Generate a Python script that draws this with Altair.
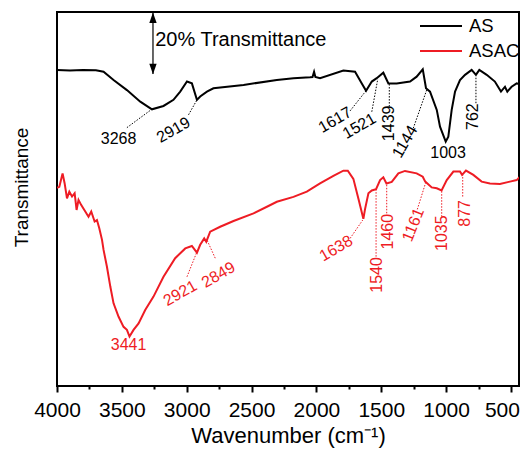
import altair as alt
import pandas as pd

FONT = "Liberation Sans"
RED = "#ee1c24"

# ---------------- spectra (wavenumber cm-1, transmittance % offset) ----------------
as_wn = [4000, 3900, 3800, 3700, 3641, 3564, 3461, 3358, 3268, 3179, 3102, 3050, 2998,
         2960, 2921, 2896, 2844, 2794, 2562, 2305, 2177, 2049, 2030, 2018, 2008, 1972,
         1792, 1702, 1650, 1617, 1573, 1535, 1484, 1445, 1381, 1278, 1227, 1180, 1155,
         1124, 1072, 1047, 1003, 983, 957, 931, 893, 854, 803, 770, 744, 687, 624, 577,
         546, 528, 495, 456, 418, 407]
as_t = [103.6, 103.4, 103.6, 103.5, 103.0, 100.3, 97.0, 93.2, 90.7, 91.8, 93.8, 96.5, 99.8,
        99.2, 93.8, 94.9, 96.5, 97.6, 98.7, 100.3, 100.9, 101.2, 101.3, 103.0, 101.3, 100.9,
        103.4, 103.0, 99.2, 96.8, 99.8, 100.9, 102.7, 99.2, 99.2, 99.8, 101.4, 103.8, 97.6,
        96.5, 90.5, 85.0, 80.1, 81.7, 90.5, 96.5, 100.3, 102.0, 103.6, 102.0, 103.6, 102.0,
        99.8, 96.5, 98.1, 96.5, 98.1, 99.2, 98.7, 98.7]

asac_wn = [4000, 3982, 3957, 3941, 3923, 3905, 3884, 3864, 3849, 3834, 3813, 3782, 3757,
           3736, 3710, 3692, 3674, 3653, 3641, 3615, 3589, 3564, 3525, 3487, 3461, 3441,
           3410, 3371, 3320, 3256, 3179, 3089, 3011, 2960, 2921, 2896, 2865, 2849, 2819,
           2742, 2639, 2485, 2370, 2305, 2177, 2074, 1972, 1869, 1792, 1758, 1715, 1676,
           1638, 1625, 1599, 1573, 1540, 1509, 1484, 1460, 1419, 1368, 1317, 1227, 1180,
           1161, 1111, 1072, 1035, 995, 944, 893, 877, 847, 790, 726, 662, 585, 508, 456,
           418, 407]
asac_t = [65.0, 65.3, 69.7, 66.4, 61.5, 63.7, 62.1, 63.2, 57.7, 61.0, 59.3, 57.2, 55.5,
          57.2, 53.9, 54.4, 51.7, 47.9, 44.6, 39.1, 32.6, 27.1, 22.7, 19.4, 18.4, 16.2,
          18.4, 20.5, 24.9, 29.3, 35.8, 41.9, 45.1, 45.9, 43.7, 46.3, 48.4, 47.3, 50.6,
          52.2, 54.1, 56.6, 59.0, 60.4, 62.0, 63.7, 66.4, 68.9, 70.6, 70.6, 67.9, 61.4,
          54.8, 58.0, 63.2, 64.1, 64.5, 67.5, 68.4, 66.4, 66.9, 69.7, 70.5, 69.7, 68.6,
          67.0, 65.1, 64.8, 64.1, 67.5, 70.3, 70.3, 69.2, 70.6, 69.2, 67.0, 66.4, 66.2,
          67.0, 67.5, 69.2, 69.9]

series_names = ["AS", "ASAC"]
series_colors = ["#000000", RED]

# ---------------- peak annotations ----------------
as_peak_text = ["3268", "2919", "1617", "1521", "1439", "1144", "1003", "762"]
as_label_wn = [3525, 3102, 1856, 1669, 1438, 1317, 985, 790]
as_label_t = [80.9, 83.9, 87.2, 85.2, 86.1, 80.1, 76.3, 88.3]
as_label_angle = [0, 330, 330, 330, 270, 300, 0, 270]
as_lead_wn1 = [3461, 2986, 1740, 1573, 1438, 1253, 770]
as_lead_t1 = [84.7, 88.9, 90.2, 89.9, 91.6, 84.5, 92.7]
as_lead_wn2 = [3276, 2921, 1617, 1527, 1438, 1150, 770]
as_lead_t2 = [90.5, 93.8, 96.8, 100.6, 99.2, 97.0, 101.6]

asac_peak_text = ["3441", "2921", "2849", "1638", "1540", "1460", "1161", "1035", "877"]
asac_label_wn = [3448, 3050, 2755, 1848, 1535, 1445, 1253, 1034, 854]
asac_label_t = [13.4, 30.4, 36.4, 45.1, 36.4, 50.6, 52.8, 50.1, 56.6]
asac_label_angle = [0, 330, 330, 330, 270, 270, 292, 270, 270]
asac_lead_wn1 = [2998, 2780, 1740, 1540, 1458, 1222, 1034, 872]
asac_lead_t1 = [35.8, 41.9, 48.4, 42.4, 56.6, 57.9, 55.5, 62.1]
asac_lead_wn2 = [2921, 2844, 1643, 1540, 1458, 1155, 1034, 872]
asac_lead_t2 = [44.0, 47.9, 54.4, 64.3, 66.5, 67.0, 64.0, 69.2]

# scale bar (20 % transmittance)
bar_wn = 3260
bar_t_low = 102.3
bar_t_high = 122.3
bar_text = "20% Transmittance"
bar_text_wn = 3243
bar_text_t = 113.4

tick_values = list(range(4000, 499, -250))

# ---------------- data frames ----------------
spec = pd.concat([
    pd.DataFrame({"wn": as_wn, "t": as_t, "series": "AS"}),
    pd.DataFrame({"wn": asac_wn, "t": asac_t, "series": "ASAC"}),
])
as_lab = pd.DataFrame({"wn": as_label_wn, "t": as_label_t, "txt": as_peak_text, "ang": as_label_angle})
asac_lab = pd.DataFrame({"wn": asac_label_wn, "t": asac_label_t, "txt": asac_peak_text, "ang": asac_label_angle})
as_lead = pd.DataFrame({"wn": as_lead_wn1, "t": as_lead_t1, "wn2": as_lead_wn2, "t2": as_lead_t2})
asac_lead = pd.DataFrame({"wn": asac_lead_wn1, "t": asac_lead_t1, "wn2": asac_lead_wn2, "t2": asac_lead_t2})
bar_df = pd.DataFrame({"wn": [bar_wn], "t": [bar_t_low], "t2": [bar_t_high]})
head_up = pd.DataFrame({"wn": [bar_wn], "t": [bar_t_high - 1.6]})
head_dn = pd.DataFrame({"wn": [bar_wn], "t": [bar_t_low + 1.6]})
bar_txt = pd.DataFrame({"wn": [bar_text_wn], "t": [bar_text_t], "txt": [bar_text]})

X_TITLE = "Wavenumber (cm\u207b\u00b9)"
x_scale = alt.Scale(domain=[438, 4000], reverse=True, nice=False, zero=False)
y_scale = alt.Scale(domain=[0, 122.6], nice=False, zero=False)
x_axis = alt.Axis(
    values=tick_values, format="d",
    labelExpr="datum.value % 500 === 0 ? datum.label : ''",
    labelOverlap=False, labelFlush=False, labelFontSize=21, labelFont=FONT,
    labelColor="black", labelPadding=7,
    labelOffset={"condition": {"test": "datum.value === 500", "value": -9}, "value": 0},
    tickSize={"condition": {"test": "datum.value % 500 !== 0", "value": 3}, "value": 6},
    tickWidth=2, tickColor="black", domain=False, grid=False,
    titleFontSize=22, titleFont=FONT, titleFontWeight="normal", titlePadding=5,
    titleColor="black",
)
y_axis = alt.Axis(
    labels=False, ticks=False, domain=False, grid=False,
    titleFontSize=19, titleFont=FONT, titleFontWeight="normal", titlePadding=26,
    titleColor="black", titleY=175,
)


def X(field="wn"):
    return alt.X(f"{field}:Q", scale=x_scale, axis=x_axis, title=X_TITLE)


def Y(field="t"):
    return alt.Y(f"{field}:Q", scale=y_scale, axis=y_axis, title="Transmittance")


lines = alt.Chart(spec).mark_line(strokeWidth=2, clip=True).encode(
    x=X(), y=Y(),
    color=alt.Color("series:N", scale=alt.Scale(domain=series_names, range=series_colors),
                    legend=alt.Legend(orient="none", legendX=372.5, legendY=2.5, title=None,
                                      symbolType="M-2,0H2", symbolSize=441,
                                      symbolStrokeWidth=2, labelFontSize=18.5, labelFont=FONT,
                                      labelColor="black", labelOffset=16.5, rowPadding=4,
                                      padding=0)),
    detail="series:N",
)


def leaders(df, col):
    return alt.Chart(df).mark_rule(strokeDash=[1.5, 1.5], strokeWidth=1, color=col).encode(
        x=X(), y=Y(), x2="wn2:Q", y2="t2:Q")


def labels(df, col):
    return alt.Chart(df).mark_text(fontSize=16, font=FONT, color=col, align="center",
                                   baseline="middle").encode(
        x=X(), y=Y(), text="txt:N", angle=alt.Angle("ang:Q", scale=None))


bar = alt.Chart(bar_df).mark_rule(strokeWidth=1.2, color="black").encode(x=X(), y=Y(), y2="t2:Q")
up = alt.Chart(head_up).mark_point(shape="M0,-1L0.7,1L-0.7,1Z", filled=True, size=110,
                                   color="black", opacity=1).encode(x=X(), y=Y())
dn = alt.Chart(head_dn).mark_point(shape="M0,1L0.7,-1L-0.7,-1Z", filled=True, size=110,
                                   color="black", opacity=1).encode(x=X(), y=Y())
bar_label = alt.Chart(bar_txt).mark_text(fontSize=20, font=FONT, color="black", align="left",
                                         baseline="middle").encode(x=X(), y=Y(), text="txt:N")

chart = alt.layer(
    lines,
    leaders(as_lead, "black"), leaders(asac_lead, RED),
    labels(as_lab, "black"), labels(asac_lab, RED),
    bar, up, dn, bar_label,
).properties(
    width=462, height=374,
    autosize=alt.AutoSizeParams(type="none"),
    padding={"left": 49, "top": 4, "right": 1, "bottom": 62},
).configure(font=FONT, background="white").configure_view(stroke="black", strokeWidth=2)

chart.save("out.html", embed_options={"renderer": "svg", "actions": False})
